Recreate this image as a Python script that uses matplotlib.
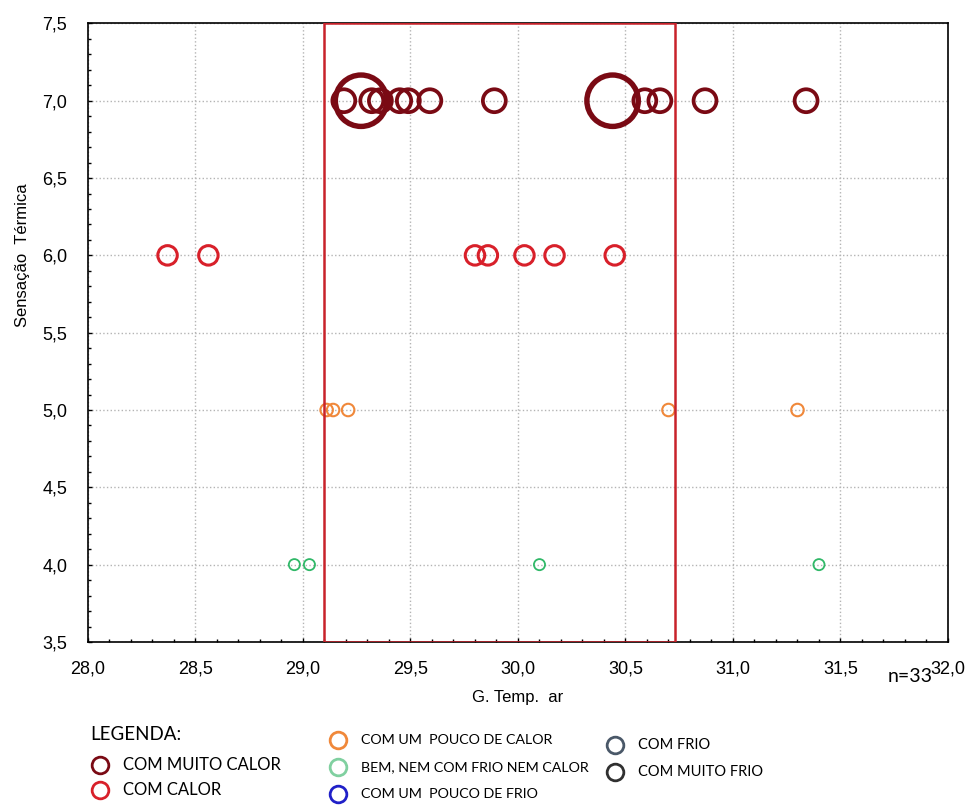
import matplotlib
matplotlib.use("Agg")
import matplotlib.pyplot as plt
from matplotlib.lines import Line2D
from matplotlib.patches import Rectangle
from matplotlib.ticker import MultipleLocator, FuncFormatter

# dados
x_muito_calor = [29.19, 29.27, 29.32, 29.36, 29.45, 29.49, 29.59, 29.89, 30.44, 30.59, 30.66, 30.87, 31.34]
s_muito_calor = [1, 3, 1, 1, 1, 1, 1, 1, 3, 1, 1, 1, 1]
x_calor = [28.37, 28.56, 29.80, 29.86, 30.03, 30.17, 30.45]
x_pouco_calor = [29.11, 29.14, 29.21, 30.70, 31.30]
x_bem = [28.96, 29.03, 30.10, 31.40]

faixa = (29.10, 30.73)   # retangulo vermelho
n_total = 33

legenda_labels = ["COM MUITO CALOR", "COM CALOR", "COM UM  POUCO DE CALOR",
                  "BEM, NEM COM FRIO NEM CALOR", "COM UM  POUCO DE FRIO",
                  "COM FRIO", "COM MUITO FRIO"]
legenda_cores = ["#7a0a14", "#d8202a", "#f0883a", "#80d0a0", "#2020c8", "#4a5868", "#303030"]

fig = plt.figure(figsize=(9.69, 8.07), dpi=100)
ax = fig.add_axes([0.0908, 0.2045, 0.8875, 0.7665])

arial = ["Liberation Sans", "DejaVu Sans"]

ax.scatter(x_muito_calor, [7.0] * len(x_muito_calor),
           s=[(16.5 if k == 1 else 37) ** 2 for k in s_muito_calor],
           facecolors="none", edgecolors="#7a0a14",
           linewidths=[2.7 if k == 1 else 3.9 for k in s_muito_calor], zorder=3)
ax.scatter(x_calor, [6.0] * len(x_calor), s=14 ** 2, facecolors="none",
           edgecolors="#d8202a", linewidths=2.2, zorder=3)
ax.scatter(x_pouco_calor, [5.0] * len(x_pouco_calor), s=9 ** 2, facecolors="none",
           edgecolors="#f0883a", linewidths=1.5, zorder=3)
ax.scatter(x_bem, [4.0] * len(x_bem), s=8 ** 2, facecolors="none",
           edgecolors="#30b868", linewidths=1.3, zorder=3)

ax.add_patch(Rectangle((faixa[0], 3.5), faixa[1] - faixa[0], 4.0, fill=False,
                       edgecolor="#c8222a", linewidth=1.8, zorder=4))

ax.set_xlim(28.0, 32.0)
ax.set_ylim(3.5, 7.5)
ax.xaxis.set_major_locator(MultipleLocator(0.5))
ax.yaxis.set_major_locator(MultipleLocator(0.5))
ax.xaxis.set_minor_locator(MultipleLocator(0.1))
ax.yaxis.set_minor_locator(MultipleLocator(0.1))
virgula = FuncFormatter(lambda v, p: f"{v:.1f}".replace(".", ","))
ax.xaxis.set_major_formatter(virgula)
ax.yaxis.set_major_formatter(virgula)
ax.tick_params(which="both", direction="in", top=False, right=False, color="black")
ax.tick_params(which="major", length=3, width=1)
ax.tick_params(which="minor", length=2, width=1)
ax.tick_params(axis="x", which="major", pad=13)
ax.tick_params(axis="y", which="major", pad=15)
for lab in ax.get_xticklabels() + ax.get_yticklabels():
    lab.set_fontfamily(arial)
    lab.set_fontsize(13)
ax.grid(True, which="major", linestyle=":", color="#b4b4b4", linewidth=1)
for sp in ax.spines.values():
    sp.set_linewidth(1.2)

ax.set_xlabel("G. Temp.  ar", family=arial, fontsize=12)
ax.xaxis.set_label_coords(0.5, -0.077)
ax.set_ylabel("Sensação  Térmica", family=arial, fontsize=12)
ax.yaxis.set_label_coords(-0.068, 0.625)

fig.text(888 / 969, 1 - 676 / 807, f"n={n_total}", family=["Lato", "DejaVu Sans"], fontsize=14,
         ha="left", va="center")

# legenda montada a mao
leg_font = ["Lato", "DejaVu Sans"]
fig.text(90 / 969, 1 - 735 / 807, "LEGENDA:", family=leg_font, fontsize=13.5, va="center")
pos = [(100, 765), (100, 790), (338, 740), (338, 767), (338, 794), (615, 745), (615, 772)]
tam = [12, 12, 10.3, 10.3, 10.3, 10.5, 10.5]
for (px, py), lab, cor, fs in zip(pos, legenda_labels, legenda_cores, tam):
    fx, fy = px / 969, 1 - py / 807
    fig.add_artist(Line2D([fx], [fy], marker="o", markersize=12, markerfacecolor="none",
                          markeredgecolor=cor, markeredgewidth=2, linestyle="none"))
    fig.text(fx + 23 / 969, fy, lab, family=leg_font, fontsize=fs, va="center")

fig.savefig("out.png", dpi=100)
